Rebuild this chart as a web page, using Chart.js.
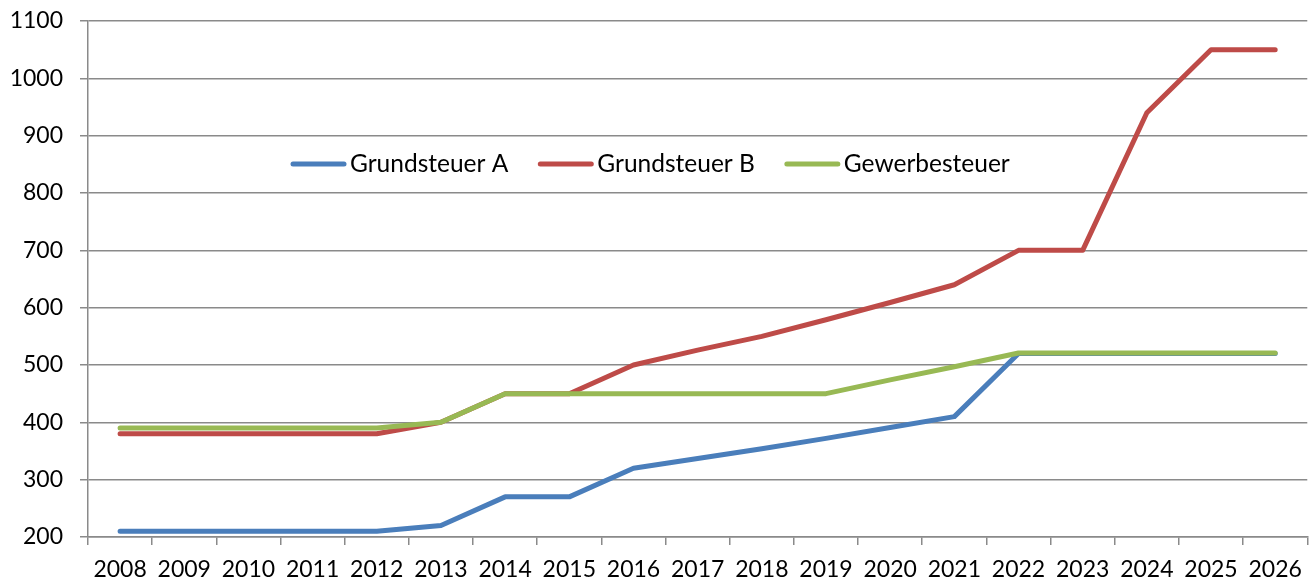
<!DOCTYPE html>
<html>
<head>
<meta charset="utf-8">
<script src="https://cdn.jsdelivr.net/npm/chart.js@4/dist/chart.umd.min.js"></script>
<style>
  html, body { margin: 0; padding: 0; background: #ffffff; }
  #wrap { position: relative; width: 1313px; height: 582px; }
</style>
</head>
<body>
<div id="wrap"><canvas id="c" width="1313" height="582"></canvas></div>
<script>
const categories = ['2008','2009','2010','2011','2012','2013','2014','2015','2016','2017','2018','2019','2020','2021','2022','2023','2024','2025','2026'];
const grundsteuerA = [210,210,210,210,210,220,270,270,320,337,354,372,391,410,520,520,520,520,520];
const grundsteuerB = [380,380,380,380,380,400,450,450,500,526,550,579,609,640,700,700,940,1050,1050];
const gewerbesteuer = [390,390,390,390,390,400,450,450,450,450,450,450,474,497,521,521,521,521,521];
const seriesNames = ['Grundsteuer A','Grundsteuer B','Gewerbesteuer'];
const seriesColors = ['#4a7ebb','#be4b48','#98b954'];
const yMin = 200, yMax = 1100, yStep = 100;

const FONT = 'Lato, "Open Sans", sans-serif';
const GRID = '#8a8a8a';

const legendPlugin = {
  id: 'innerLegend',
  afterDraw(chart) {
    const ctx = chart.ctx;
    ctx.save();
    ctx.font = '24.5px ' + FONT;
    ctx.textBaseline = 'middle';
    ctx.fillStyle = '#000000';
    const y = 164;
    let x = 291;
    const lineLen = 55, gapAfterLine = 4, gapBetween = 30;
    seriesNames.forEach((name, i) => {
      ctx.strokeStyle = seriesColors[i];
      ctx.lineWidth = 5;
      ctx.lineCap = 'round';
      ctx.beginPath();
      ctx.moveTo(x + 2, y);
      ctx.lineTo(x + lineLen - 2, y);
      ctx.stroke();
      x += lineLen + gapAfterLine;
      ctx.fillText(name, x, y);
      x += ctx.measureText(name).width + gapBetween;
    });
    ctx.restore();
  }
};

const mk = (label, data, color, order) => ({
  label, data, order,
  borderColor: color,
  backgroundColor: color,
  borderWidth: 5,
  borderCapStyle: 'round',
  borderJoinStyle: 'round',
  pointRadius: 0,
  pointHoverRadius: 0,
  tension: 0,
  fill: false
});

new Chart(document.getElementById('c'), {
  type: 'line',
  data: {
    labels: categories,
    datasets: [
      mk(seriesNames[0], grundsteuerA, seriesColors[0], 3),
      mk(seriesNames[1], grundsteuerB, seriesColors[1], 2),
      mk(seriesNames[2], gewerbesteuer, seriesColors[2], 1)
    ]
  },
  options: {
    responsive: false,
    animation: false,
    layout: { padding: { top: 21, right: 5, left: 0, bottom: 0 } },
    plugins: {
      legend: { display: false },
      tooltip: { enabled: false }
    },
    scales: {
      x: {
        offset: true,
        grid: {
          offset: true,
          drawOnChartArea: false,
          drawTicks: true,
          tickLength: 8,
          color: GRID,
          lineWidth: 1.5
        },
        border: { display: true, color: GRID, width: 1.5 },
        ticks: {
          color: '#000000',
          font: { family: FONT, size: 23 },
          padding: 11,
          maxRotation: 0,
          autoSkip: false
        },
        afterFit(scale) { scale.height = 45; }
      },
      y: {
        min: yMin,
        max: yMax,
        grid: {
          color: GRID,
          lineWidth: 1.5,
          drawTicks: true,
          tickLength: 8
        },
        border: { display: true, color: GRID, width: 1.5 },
        ticks: {
          stepSize: yStep,
          color: '#000000',
          font: { family: FONT, size: 23 },
          padding: 17,
          callback: (v) => String(v)
        },
        afterFit(scale) {
          scale.width = 88;
          scale.paddingTop = 0;
          scale.paddingBottom = 0;
        }
      }
    }
  },
  plugins: [legendPlugin]
});
</script>
</body>
</html>
